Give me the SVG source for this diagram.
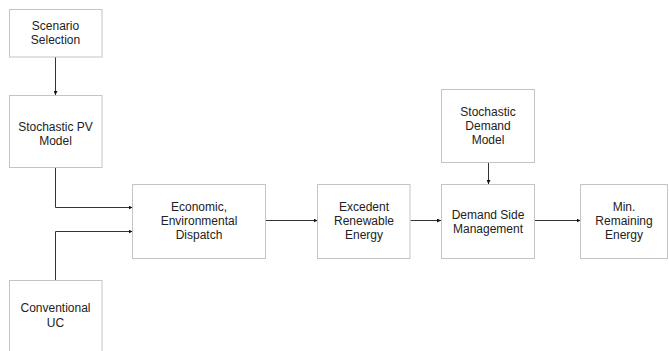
<svg xmlns="http://www.w3.org/2000/svg" width="669" height="351" viewBox="0 0 669 351">
<defs>
<style>
.box{fill:#ffffff;stroke:#c4c4c4;stroke-width:1}
.lbl{font-family:"Liberation Sans",Arial,sans-serif;font-size:12px;fill:#222;text-anchor:middle}
.con{fill:none;stroke:#333;stroke-width:1}
</style>
<marker id="ah" viewBox="0 0 4 4" refX="4" refY="2" markerWidth="4" markerHeight="4" markerUnits="userSpaceOnUse" orient="auto">
<path d="M0,0 L4,2 L0,4 z" fill="#111"/>
</marker>
</defs>
<rect width="669" height="351" fill="#ffffff"/>
<g id="connectors">
<path class="con" d="M55.5,57 V95" marker-end="url(#ah)"/>
<path class="con" d="M55.5,168 V207.5 H132.5" marker-end="url(#ah)"/>
<path class="con" d="M55.5,280 V231.5 H132.5" marker-end="url(#ah)"/>
<path class="con" d="M266,220.5 H317.5" marker-end="url(#ah)"/>
<path class="con" d="M410.5,220.5 H441" marker-end="url(#ah)"/>
<path class="con" d="M535,220.5 H580.5" marker-end="url(#ah)"/>
<path class="con" d="M488.5,162.5 V184" marker-end="url(#ah)"/>
</g>
<g id="scenario">
<rect class="box" x="9.5" y="9.5" width="92.5" height="47.5"/>
<text class="lbl" x="55.5" y="30">Scenario</text>
<text class="lbl" x="55.5" y="44">Selection</text>
</g>
<g id="pv">
<rect class="box" x="9.5" y="95.5" width="92.5" height="72"/>
<text class="lbl" x="55.5" y="131">Stochastic PV</text>
<text class="lbl" x="55.5" y="145">Model</text>
</g>
<g id="conventional">
<rect class="box" x="9.5" y="280.5" width="92.5" height="80"/>
<text class="lbl" x="55.5" y="312">Conventional</text>
<text class="lbl" x="55.5" y="326.5">UC</text>
</g>
<g id="dispatch">
<rect class="box" x="132.5" y="184.5" width="133" height="74"/>
<text class="lbl" x="199" y="210.5">Economic,</text>
<text class="lbl" x="199" y="225">Environmental</text>
<text class="lbl" x="199" y="239">Dispatch</text>
</g>
<g id="excedent">
<rect class="box" x="317.5" y="184.5" width="92.5" height="74"/>
<text class="lbl" x="364" y="210.5">Excedent</text>
<text class="lbl" x="364" y="225">Renewable</text>
<text class="lbl" x="364" y="239">Energy</text>
</g>
<g id="dsm">
<rect class="box" x="441.5" y="184.5" width="93" height="74"/>
<text class="lbl" x="488" y="219">Demand Side</text>
<text class="lbl" x="488" y="233">Management</text>
</g>
<g id="demand">
<rect class="box" x="441.5" y="89.5" width="93" height="73"/>
<text class="lbl" x="488" y="115.5">Stochastic</text>
<text class="lbl" x="488" y="130">Demand</text>
<text class="lbl" x="488" y="144">Model</text>
</g>
<g id="remaining">
<rect class="box" x="580.5" y="184.5" width="87" height="74"/>
<text class="lbl" x="624" y="210.5">Min.</text>
<text class="lbl" x="624" y="225">Remaining</text>
<text class="lbl" x="624" y="239">Energy</text>
</g>
</svg>
